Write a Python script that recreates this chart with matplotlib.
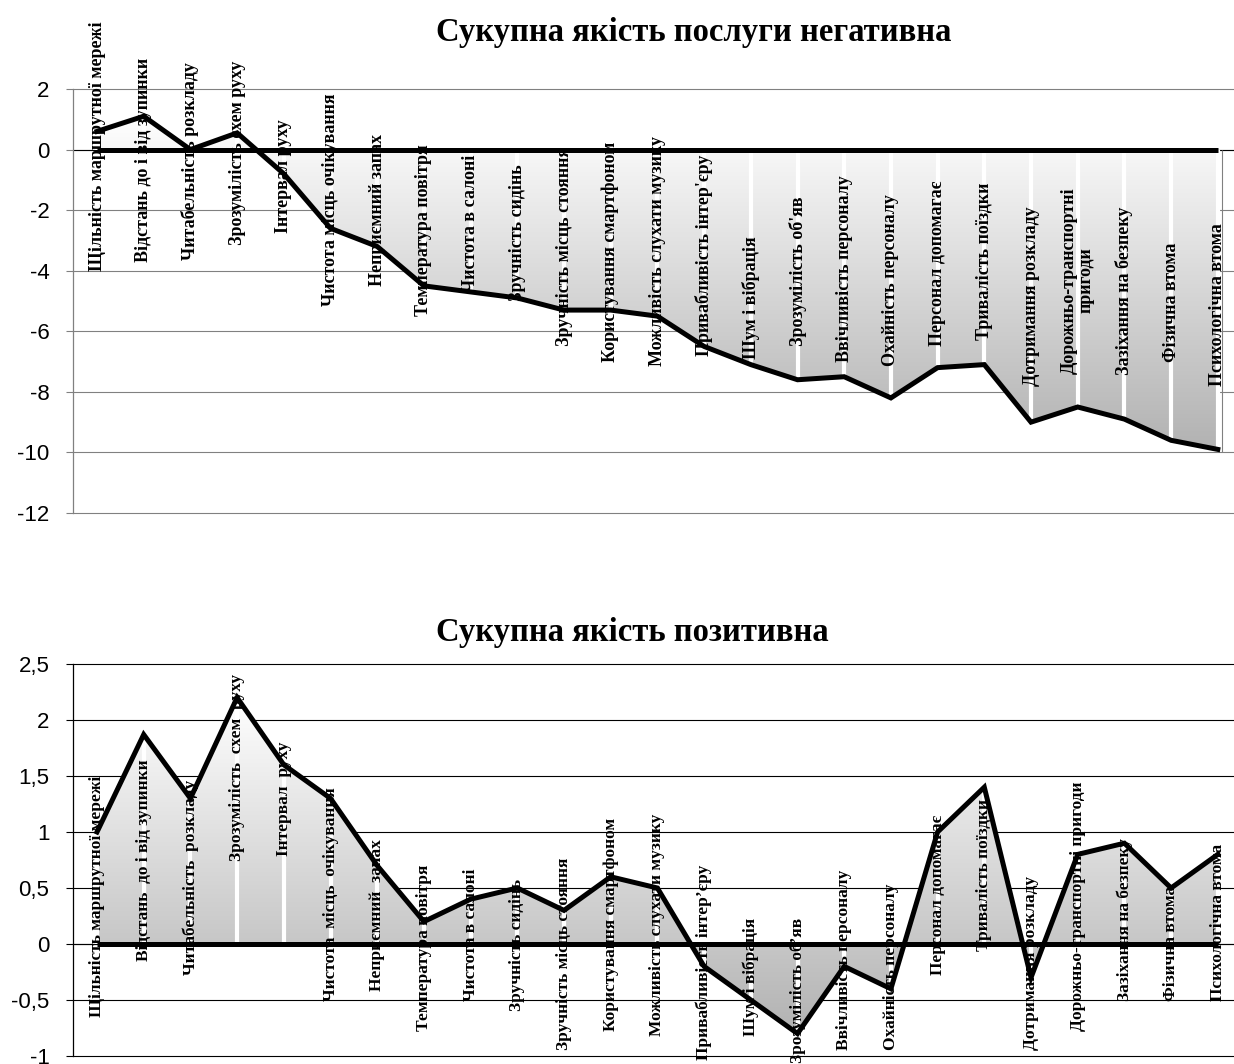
import numpy as np
import matplotlib
matplotlib.use('Agg')
import matplotlib.pyplot as plt
from matplotlib.colors import LinearSegmentedColormap
from matplotlib.patches import Polygon

plt.rcParams['figure.dpi'] = 100
SERIF = 'Liberation Serif'
SANS = 'Liberation Sans'

# ---------- data ----------
neg_labels = ['Щільність маршрутної мережі', 'Відстань до і від зупинки', 'Читабельність розкладу',
              'Зрозумілість схем руху', 'Інтервал руху', 'Чистота місць очікування',
              'Неприємний запах', 'Температура повітря', 'Чистота в салоні', 'Зручність сидінь',
              'Зручність місць стояння', 'Користування смартфоном', 'Можливість слухати музику',
              "Привабливість інтер'єру", 'Шум і вібрація', "Зрозумілість об'яв",
              'Ввічливість персоналу', 'Охайність персоналу', 'Персонал допомагає',
              'Тривалість поїздки', 'Дотримання розкладу', 'Дорожньо-транспортні\nпригоди',
              'Зазіхання на безпеку', 'Фізична втома', 'Психологічна втома']
neg_values = [0.6, 1.1, 0.0, 0.55, -0.8, -2.6, -3.2, -4.5, -4.7, -4.9, -5.3, -5.3, -5.5,
              -6.5, -7.1, -7.6, -7.5, -8.2, -7.2, -7.1, -9.0, -8.5, -8.9, -9.6, -9.9]

pos_labels = ['Щільність маршрутної мережі', 'Відстань  до і від зупинки', 'Читабельність  розкладу',
              'Зрозумілість  схем  руху', 'Інтервал  руху', 'Чистота  місць  очікування',
              'Неприємний  запах', 'Температура повітря', 'Чистота в салоні', 'Зручність сидінь',
              'Зручність місць стояння', 'Користування смартфоном', 'Можливість слухати музику',
              'Привабливість інтер’єру', 'Шум і вібрація', 'Зрозумілість об’яв',
              'Ввічливість персоналу', 'Охайність персоналу', 'Персонал допомагає',
              'Тривалість поїздки', 'Дотримання розкладу', 'Дорожньо-транспортні пригоди',
              'Зазіхання на безпеку', 'Фізична втома', 'Психологічна втома']
pos_values = [1.0, 1.87, 1.3, 2.2, 1.6, 1.3, 0.7, 0.2, 0.4, 0.5, 0.3, 0.6, 0.5,
              -0.2, -0.5, -0.8, -0.2, -0.4, 1.0, 1.4, -0.3, 0.8, 0.9, 0.5, 0.8]

# label placement (data y where each upward-reading label starts)
neg_label_start = [-4.0, -3.7, -3.65, -3.15, -2.75, -5.15, -4.5, -5.5, -4.7, -5.0, -6.5, -7.0, -7.15,
                   -6.8, -6.9, -6.5, -7.0, -7.15, -6.5, -6.3, -7.8, -7.4, -7.45, -7.0, -7.8]
pos_label_start = [-0.65, -0.15, -0.28, 0.74, 0.79, -0.51, -0.42, -0.78, -0.51, -0.6, -0.95, -0.78, -0.82,
                   -1.04, -0.82, -1.06, -0.95, -0.95, -0.28, -0.06, -0.95, -0.78, -0.51, -0.51, -0.51]

W, H = 1234, 1064
fig = plt.figure(figsize=(W / 100, H / 100))

GRAD = LinearSegmentedColormap.from_list('grad', ['#ffffff', '#b2b2b2'])


def panel(rect, values, labels, starts, ylim, yticks, yticklabels, gridcolor, spinecolor, title, title_y, label_fs):
    ax = fig.add_axes(rect)
    x = np.arange(len(values))
    xlim = (-0.514, (W - 97) / 46.7)
    ax.set_xlim(*xlim)
    ax.set_ylim(*ylim)

    # gradient fill between the series and zero
    verts = list(zip(x, values)) + [(x[-1], 0), (x[0], 0)]
    clip = Polygon(verts, closed=True, transform=ax.transData, facecolor='none', edgecolor='none')
    ax.add_patch(clip)
    grad = np.linspace(0, 1, 256).reshape(-1, 1)
    im = ax.imshow(grad, cmap=GRAD, aspect='auto', origin='upper',
                   extent=(x[0], x[-1], min(values), max(values)), zorder=1)
    im.set_clip_path(clip)
    ax.set_xlim(*xlim)
    ax.set_ylim(*ylim)

    # gridlines
    for t in yticks:
        ax.axhline(t, color=gridcolor, lw=0.8, zorder=0.5, clip_on=False)
    ax.axhline(0, color='black', lw=0.8, zorder=0.6)

    # white drop lines
    ax.vlines(x, 0, values, colors='white', lw=3.0, zorder=2)

    # category labels
    for xi, lab, s in zip(x, labels, starts):
        ax.text(xi, s, lab, rotation=90, ha='left', va='center', rotation_mode='anchor',
                family=SERIF, fontweight='bold', fontsize=label_fs, multialignment='center',
                linespacing=1.0, zorder=3)

    # zero series and data series
    ax.plot(x, np.zeros(len(x)), color='black', lw=3.6, solid_capstyle='butt', zorder=4)
    ax.plot(x, values, color='black', lw=3.6, solid_joinstyle='miter', zorder=5)

    ax.set_yticks(yticks)
    ax.set_yticklabels(yticklabels, family=SANS, fontsize=16)
    ax.set_xticks([])
    for s in ['top', 'right', 'bottom']:
        ax.spines[s].set_visible(False)
    ax.spines['left'].set_color(spinecolor)
    ax.spines['left'].set_linewidth(0.9)
    ax.tick_params(axis='y', direction='out', length=5, width=0.8, color=spinecolor, pad=12)
    ax.patch.set_alpha(0)

    fig.text(436 / W, 1 - title_y / H, title, family=SERIF, fontweight='bold', fontsize=23.5,
             ha='left', va='center')
    return ax


top_rect = [73 / W, 1 - 513 / H, 1 - 73 / W, (513 - 89) / H]
ax_top = panel(top_rect, neg_values, neg_labels, neg_label_start, (-12, 2),
               [2, 0, -2, -4, -6, -8, -10, -12], ['2', '0', '-2', '-4', '-6', '-8', '-10', '-12'],
               '#808080', '#808080', 'Сукупна якість послуги негативна', 33, 13)
# thin border closing the shaded area on the right
ax_top.vlines(len(neg_values) - 1 + 0.09, -10, 0, colors='#808080', lw=0.8, zorder=2)

bot_rect = [73 / W, 1 - 1056 / H, 1 - 73 / W, (1056 - 664) / H]
panel(bot_rect, pos_values, pos_labels, pos_label_start, (-1, 2.5),
      [2.5, 2, 1.5, 1, 0.5, 0, -0.5, -1], ['2,5', '2', '1,5', '1', '0,5', '0', '-0,5', '-1'],
      '#000000', '#000000', 'Сукупна якість позитивна', 632, 12.5)

fig.savefig('out.png', dpi=100)
